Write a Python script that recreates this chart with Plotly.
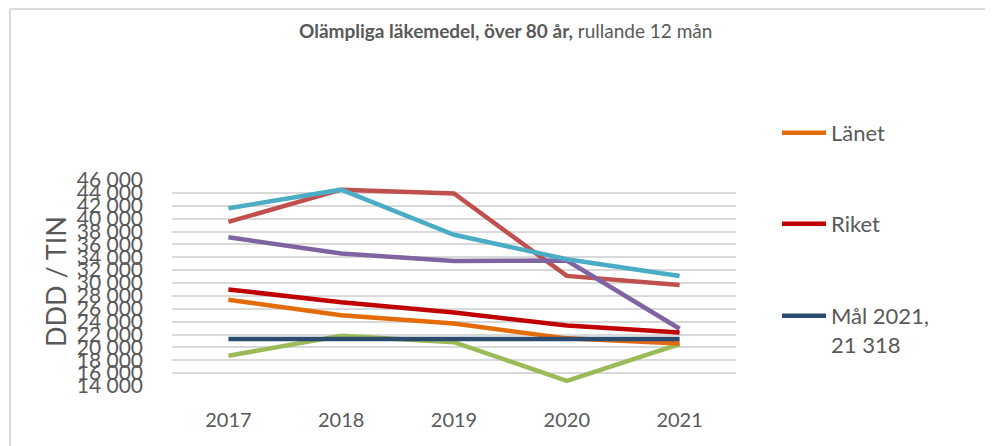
import plotly.graph_objects as go

years = ["2017", "2018", "2019", "2020", "2021"]

lanet = [27400, 25000, 23700, 21400, 20600]
riket = [29000, 27000, 25400, 23400, 22300]
mal = [21318, 21318, 21318, 21318, 21318]
serie_rod = [39500, 44500, 43900, 31100, 29700]
serie_lila = [37100, 34600, 33400, 33500, 22900]
serie_bla = [41600, 44500, 37500, 33700, 31100]
serie_gron = [18700, 21800, 20800, 14800, 20500]

y_ticks = list(range(14000, 46001, 2000))
y_tick_labels = [f"{v // 1000} 000" for v in y_ticks]

FONT = "Lato"
GREY = "#595959"

# page has an 8px body margin; work in page pixels and convert
OFF = 8
FW, FH = 993 - OFF, 446 - OFF
# plot area in page pixels
L, R, T, B = 172, 736, 180, 386
W, H = R - L, B - T


def px_x(x):
    return (x - L) / W


def px_y(y):
    return (B - y) / H


fig = go.Figure()

hidden = [
    ("Serie A", serie_gron, "#9BBB59"),
    ("Serie B", serie_rod, "#C0504D"),
    ("Serie C", serie_lila, "#8064A2"),
    ("Serie D", serie_bla, "#4BACC6"),
]
for name, vals, col in hidden:
    fig.add_trace(go.Scatter(x=years, y=vals, mode="lines", name=name,
                             line=dict(color=col, width=4.5), showlegend=False))

shown = [
    ("Länet", lanet, "#E36C09", "legend"),
    ("Riket", riket, "#C00000", "legend2"),
    ("Mål 2021,<br>21 318", mal, "#2B4C6F", "legend3"),
]
for name, vals, col, lg in shown:
    fig.add_trace(go.Scatter(x=years, y=vals, mode="lines", name=name,
                             legend=lg, line=dict(color=col, width=4.5)))

legend_common = dict(xanchor="left", yanchor="top",
                     font=dict(size=22, color=GREY, family=FONT),
                     valign="top", itemwidth=44,
                     bgcolor="rgba(0,0,0,0)")

fig.update_layout(
    width=FW, height=FH,
    margin=dict(l=L - OFF, r=FW - (R - OFF), t=T - OFF, b=FH - (B - OFF),
                autoexpand=False),
    paper_bgcolor="white", plot_bgcolor="white",
    font=dict(family=FONT, color=GREY),
    legend=dict(x=px_x(777), y=px_y(112), **legend_common),
    legend2=dict(x=px_x(777), y=px_y(203), **legend_common),
    legend3=dict(x=px_x(777), y=px_y(295), **legend_common),
    xaxis=dict(type="category", range=[-0.5, 4.5], showgrid=False,
               showline=False, zeroline=False, ticks="", automargin=False,
               ticklabelstandoff=20,
               tickfont=dict(size=20, color=GREY, family=FONT)),
    yaxis=dict(range=[14000, 46000], tickvals=y_ticks, ticktext=y_tick_labels,
               showgrid=True, gridcolor="#D9D9D9", gridwidth=1.5,
               zeroline=False, showline=False, ticks="", automargin=False,
               ticklabelstandoff=28,
               tickfont=dict(size=21, color=GREY, family=FONT)),
    annotations=[
        dict(text="<b>Olämpliga läkemedel, över 80 år,</b> rullande 12 mån",
             xref="paper", yref="paper", x=px_x(505), y=px_y(30),
             xanchor="center", yanchor="middle", showarrow=False,
             font=dict(size=19, color=GREY, family=FONT)),
        dict(text="DDD / TIN", textangle=-90,
             xref="paper", yref="paper", x=px_x(55), y=px_y(282),
             xanchor="center", yanchor="middle", showarrow=False,
             font=dict(size=27, color=GREY, family=FONT)),
    ],
    shapes=[
        dict(type="line", xref="paper", yref="paper",
             x0=px_x(10), x1=px_x(993), y0=px_y(9), y1=px_y(9),
             line=dict(color="#D9D9D9", width=2)),
        dict(type="line", xref="paper", yref="paper",
             x0=px_x(10), x1=px_x(10), y0=px_y(9), y1=px_y(446),
             line=dict(color="#D9D9D9", width=2)),
    ],
)

fig.write_html("out.html")
